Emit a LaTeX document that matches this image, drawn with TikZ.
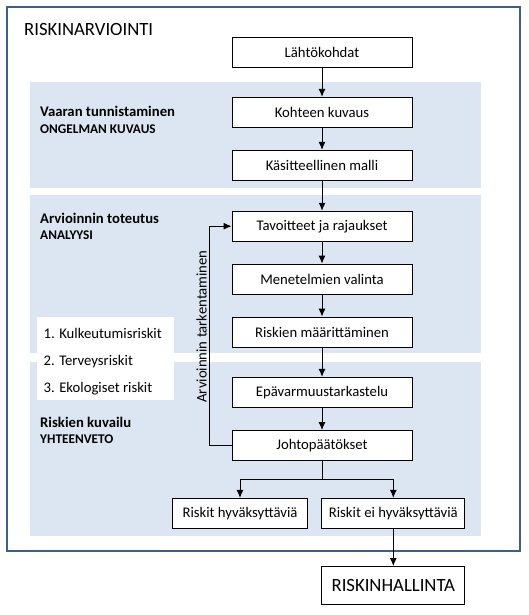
\documentclass[tikz,border=0pt]{standalone}
\usepackage{fontspec}
\setmainfont{Carlito}
\usetikzlibrary{positioning, arrows.meta}

\definecolor{frameblue}{RGB}{61,95,143}
\definecolor{bandblue}{RGB}{220,230,242}

\tikzset{
    stepbox/.style={draw, line width=0.9pt, fill=white, minimum width=180pt, minimum height=30pt, inner sep=0pt, font=\fontsize{14.7}{17}\selectfont},
    band/.style={fill=bandblue, draw=none},
    phase/.style={anchor=base west, inner sep=0pt, font=\fontsize{14.7}{17}\selectfont\bfseries},
    subphase/.style={anchor=base west, inner sep=0pt, font=\fontsize{13.3}{15}\selectfont\bfseries},
    item/.style={anchor=base west, inner sep=0pt, font=\fontsize{14.7}{17}\selectfont},
    flow/.style={-{Latex[length=8pt, width=7pt]}, line width=0.9pt}
}

\begin{document}
\begin{tikzpicture}[x=1pt, y=-1pt]
    \useasboundingbox (0,0) rectangle (528,615);

    % --- Outer Frame and Bands ---
    \draw[line width=2.2pt, draw=frameblue] (7,7) rectangle (520,551);
    \fill[band] (30,82) rectangle (481,188);
    \fill[band] (30,195) rectangle (481,353);
    \fill[band] (30,362) rectangle (481,536);
    \node[anchor=base west, inner sep=0pt, font=\fontsize{18.7}{21}\selectfont] (title) at (24,35.5) {RISKINARVIOINTI};

    % --- Phase Labels ---
    \node[phase] (vaara) at (40,116.5) {Vaaran tunnistaminen};
    \node[subphase] (ongelma) at (40,133.5) {ONGELMAN KUVAUS};
    \node[phase] (toteutus) at (40,223.3) {Arvioinnin toteutus};
    \node[subphase] (analyysi) at (40,239.5) {ANALYYSI};
    \node[phase] (kuvailu) at (40,427.3) {Riskien kuvailu};
    \node[subphase] (yhteenveto) at (40,443.5) {YHTEENVETO};

    % --- Risk Types ---
    \fill[white] (37,317) rectangle (174,400);
    \node[item] (kulkeutuminen) at (43.5,338.5) {1. Kulkeutumisriskit};
    \node[item] (terveys) at (43.5,365.2) {2. Terveysriskit};
    \node[item] (ekologia) at (43.5,392.2) {3. Ekologiset riskit};

    % --- Main Steps ---
    \node[stepbox] (start) at (322,52.5) {Lähtökohdat};
    \node[stepbox] (kohde) at (322,112.3) {Kohteen kuvaus};
    \node[stepbox] (malli) at (322,165.3) {Käsitteellinen malli};
    \node[stepbox] (tavoite) at (322,226.2) {Tavoitteet ja rajaukset};
    \node[stepbox] (menetelma) at (322,279) {Menetelmien valinta};
    \node[stepbox] (maaritys) at (322,332) {Riskien määrittäminen};
    \node[stepbox] (epavarmuus) at (322,392.3) {Epävarmuustarkastelu};
    \node[stepbox] (johto) at (322,445.5) {Johtopäätökset};

    % --- Outcomes ---
    \node[stepbox, minimum width=135pt] (hyvaksytty) at (240,513.3) {Riskit hyväksyttäviä};
    \node[stepbox, minimum width=143pt] (hylatty) at (393.3,513.3) {Riskit ei hyväksyttäviä};
    \node[stepbox, minimum width=143pt, minimum height=38pt, font=\fontsize{18.7}{21}\selectfont] (hallinta) at (393.3,585.5) {RISKINHALLINTA};

    % --- Connections ---
    \draw[flow] (start) -- (kohde);
    \draw[flow] (kohde) -- (malli);
    \draw[flow] (malli) -- (tavoite);
    \draw[flow] (tavoite) -- (menetelma);
    \draw[flow] (menetelma) -- (maaritys);
    \draw[flow] (maaritys) -- (epavarmuus);
    \draw[flow] (epavarmuus) -- (johto);
    \coordinate (split) at (322,479);
    \draw[line width=0.9pt] (johto) -- (split);
    \draw[flow] (split) -| (hyvaksytty);
    \draw[flow] (split) -| (hylatty);
    \draw[flow] (hylatty) -- (hallinta);

    % --- Feedback Loop ---
    \coordinate (loop) at (209.3,445.5);
    \draw[flow] (johto.west) -- (loop) |- (tavoite.west);
    \node[rotate=90, inner sep=0pt, font=\fontsize{14.7}{17}\selectfont] (tarkennus) at (201.5,326.5) {Arvioinnin tarkentaminen};

\end{tikzpicture}
\end{document}
